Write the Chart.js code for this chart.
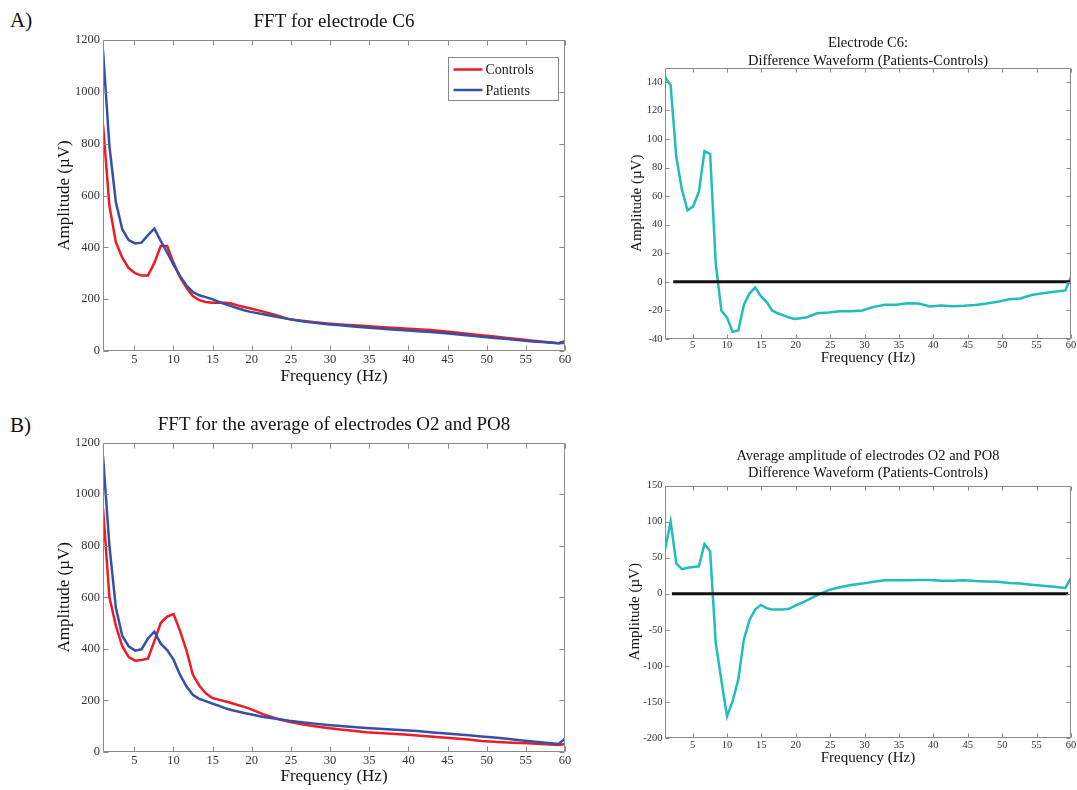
<!DOCTYPE html>
<html>
<head>
<meta charset="utf-8">
<script src="https://cdn.jsdelivr.net/npm/chart.js@4.4.1/dist/chart.umd.min.js"></script>
<style>
  html, body { margin: 0; padding: 0; background: #fff; overflow: hidden; }
  body { width: 1077px; height: 790px; position: relative; font-family: 'Liberation Serif', 'Times New Roman', serif; }
  canvas { position: absolute; }
  .tag { position: absolute; font-size: 21px; line-height: 24px; color: #111; }
</style>
</head>
<body>
<div class="tag" style="left:10px;top:8px">A)</div>
<div class="tag" style="left:10px;top:413px">B)</div>
<canvas id="fft-c6"></canvas>
<canvas id="diff-c6"></canvas>
<canvas id="fft-occ"></canvas>
<canvas id="diff-occ"></canvas>
<script>
// frequency bins (Hz): every bin up to 20 Hz, every second bin above
const freq = [1.00, 1.82, 2.64, 3.46, 4.28, 5.10, 5.92, 6.74, 7.56, 8.37, 9.19, 10.01,
  10.83, 11.65, 12.47, 13.29, 14.11, 14.93, 15.75, 16.57, 17.39, 18.21, 19.03, 19.85,
  21.49, 23.12, 24.76, 26.40, 28.04, 29.68, 31.32, 32.96, 34.60, 36.23, 37.87, 39.51,
  41.15, 42.79, 44.43, 46.07, 47.71, 49.35, 50.98, 52.62, 54.26, 55.90, 57.54, 59.18, 60.00];

// electrode C6
const c6Controls = [875, 560, 420, 360, 320, 300, 291, 291, 340, 405, 405, 340,
  285, 245, 212, 196, 189, 186, 186, 186, 183, 176, 170, 164,
  152, 138, 123, 117, 111, 106, 102, 99, 96, 93, 90, 87,
  84, 81, 76, 71, 66, 61, 56, 50, 45, 40, 35, 30, 31];
const c6Patients = [1160, 790, 575, 470, 428, 415, 418, 447, 472, 425, 380, 332,
  290, 253, 228, 215, 208, 200, 190, 181, 173, 165, 157, 151,
  142, 132, 123, 115, 109, 103, 99, 95, 91, 87, 83, 80,
  76, 73, 69, 65, 60, 55, 50, 46, 41, 37, 34, 30, 38];
const c6Diff = [143.5, 137.5, 87.5, 64.5, 50, 53, 63, 91.5, 89.5, 13, -20, -25,
  -35, -34, -16, -8, -4, -10, -14, -20, -22, -23.5, -25, -26,
  -25, -22, -21.5, -20.5, -20.5, -20, -17.5, -16, -16, -15, -15.2, -17.3,
  -16.5, -17, -16.8, -16.2, -15.2, -14, -12.2, -11.6, -9.2, -8, -7, -6, 3.5];

// average of O2 and PO8
const occControls = [946, 600, 490, 410, 368, 354, 357, 362, 430, 500, 525, 535,
  470, 395, 300, 258, 228, 210, 203, 197, 190, 182, 175, 166,
  146, 130, 117, 108, 100, 93, 87, 82, 77, 74, 71, 68,
  64, 60, 56, 52, 48, 43, 40, 37, 35, 33, 30, 27, 31];
const occPatients = [1148, 800, 560, 450, 410, 393, 398, 440, 467, 420, 395, 358,
  300, 255, 222, 206, 197, 188, 180, 170, 163, 157, 151, 146,
  136, 129, 121, 115, 110, 105, 101, 97, 93, 90, 87, 84,
  81, 77, 73, 69, 65, 60, 56, 51, 46, 41, 36, 31, 52];
const occDiff = [61, 100, 42, 34, 36, 37, 38, 69, 59, -68, -120, -170,
  -149, -119, -63, -36, -22, -15.5, -20, -22, -22, -22, -21, -17,
  -10, -2, 5, 9, 12, 14, 16.5, 18.5, 18.5, 18.5, 19, 19,
  18, 18, 18.5, 17.5, 17, 16.5, 15, 14, 12.5, 11, 9.5, 8, 22];

// zero reference line ends (Hz)
const zeroC6 = [2.2, 60];
const zeroOcc = [2.0, 59.6];

const freqTicks = [5, 10, 15, 20, 25, 30, 35, 40, 45, 50, 55, 60];
const fftTicks = [0, 200, 400, 600, 800, 1000, 1200];
const c6DiffTicks = [-40, -20, 0, 20, 40, 60, 80, 100, 120, 140];
const occDiffTicks = [-200, -150, -100, -50, 0, 50, 100, 150];

const SERIF = "'Liberation Serif', 'Times New Roman', serif";
const RED = '#ec1c24', BLUE = '#3551a6', CYAN = '#22bcbc';

const pts = (xs, ys) => xs.map((x, i) => ({ x, y: ys[i] }));

// box with inward ticks on all four sides
const matlabAxes = {
  id: 'matlabAxes',
  afterDatasetsDraw(chart, args, o) {
    const { ctx, chartArea: a, scales: { x, y } } = chart;
    const L = Math.round(a.left) + 0.5, R = Math.round(a.right) - 0.5;
    const T = Math.round(a.top) + 0.5, B = Math.round(a.bottom) - 0.5;
    ctx.save();
    ctx.strokeStyle = '#8a8a8a';
    ctx.lineWidth = 1;
    ctx.beginPath();
    x.ticks.forEach(t => {
      const p = Math.round(x.getPixelForValue(t.value)) + 0.5;
      ctx.moveTo(p, B); ctx.lineTo(p, B - o.len);
      ctx.moveTo(p, T); ctx.lineTo(p, T + o.len);
    });
    y.ticks.forEach(t => {
      const p = Math.round(y.getPixelForValue(t.value)) + 0.5;
      ctx.moveTo(L, p); ctx.lineTo(L + o.len, p);
      ctx.moveTo(R, p); ctx.lineTo(R - o.len, p);
    });
    ctx.rect(L, T, R - L, B - T);
    ctx.stroke();
    ctx.restore();
  }
};

const panelTitle = {
  id: 'panelTitle',
  afterDraw(chart, args, o) {
    if (!o.lines) return;
    const { ctx, chartArea: a } = chart;
    ctx.save();
    ctx.font = o.size + 'px ' + SERIF;
    ctx.fillStyle = '#111';
    ctx.textAlign = 'center';
    ctx.textBaseline = 'middle';
    const cx = (a.left + a.right) / 2;
    o.lines.forEach((t, i) => ctx.fillText(t, cx, o.ys[i]));
    ctx.restore();
  }
};

// legend in a bordered box at the upper right of the plot
const boxLegend = {
  id: 'boxLegend',
  afterDraw(chart, args, o) {
    if (!o.show) return;
    const { ctx, chartArea: a } = chart;
    const x0 = Math.round(a.right - o.right - o.w) + 0.5;
    const y0 = Math.round(a.top + o.top) + 0.5;
    ctx.save();
    ctx.fillStyle = '#fff';
    ctx.fillRect(x0, y0, o.w, o.h);
    ctx.strokeStyle = '#8a8a8a';
    ctx.lineWidth = 1;
    ctx.strokeRect(x0, y0, o.w, o.h);
    ctx.font = o.size + 'px ' + SERIF;
    ctx.textBaseline = 'middle';
    chart.data.datasets.filter(d => d.label).forEach((d, i) => {
      const yy = y0 + o.rows[i];
      ctx.strokeStyle = d.borderColor;
      ctx.lineWidth = 2.5;
      ctx.beginPath();
      ctx.moveTo(x0 + 5, yy); ctx.lineTo(x0 + 34, yy);
      ctx.stroke();
      ctx.fillStyle = '#222';
      ctx.fillText(d.label, x0 + 37, yy + 1);
    });
    ctx.restore();
  }
};

function panel(id, box, plot, cfg) {
  const cv = document.getElementById(id);
  cv.width = box.w; cv.height = box.h;
  cv.style.left = box.x + 'px'; cv.style.top = box.y + 'px';
  const tickFont = { family: SERIF, size: cfg.tickSize };
  const axisFont = { family: SERIF, size: cfg.labelSize };
  const half = cfg.labelSize * 0.6;
  return new Chart(cv, {
    type: 'line',
    data: { datasets: cfg.datasets },
    options: {
      responsive: false,
      animation: false,
      devicePixelRatio: 1,
      events: [],
      layout: { padding: { top: plot.t - box.y, right: box.x + box.w - plot.r, left: 0, bottom: 0 } },
      elements: { point: { radius: 0 }, line: { tension: 0 } },
      plugins: {
        legend: { display: false },
        tooltip: { enabled: false },
        matlabAxes: { len: cfg.tickLen },
        panelTitle: { lines: cfg.title, ys: cfg.titleY.map(v => v - box.y), size: cfg.titleSize },
        boxLegend: cfg.legend || { show: false }
      },
      scales: {
        x: {
          type: 'linear', min: 1, max: 60,
          afterBuildTicks: s => { s.ticks = freqTicks.map(v => ({ value: v })); },
          afterFit: s => { s.height = box.y + box.h - plot.b; s.paddingLeft = 0; s.paddingRight = 0; },
          grid: { display: false, drawTicks: false },
          border: { display: false },
          ticks: { autoSkip: false, maxRotation: 0, padding: cfg.xPad, font: tickFont, color: '#333',
                   callback: v => String(v) },
          title: { display: true, text: 'Frequency (Hz)', font: axisFont, color: '#111',
                   padding: { top: 0, bottom: (box.y + box.h - cfg.xTitleY) - half } }
        },
        y: {
          type: 'linear', min: cfg.yMin, max: cfg.yMax,
          afterBuildTicks: s => { s.ticks = cfg.yTicks.map(v => ({ value: v })); },
          afterFit: s => { s.width = plot.l - box.x; s.paddingTop = 0; s.paddingBottom = 0; },
          grid: { display: false, drawTicks: false },
          border: { display: false },
          ticks: { padding: cfg.yPad, font: tickFont, color: '#333', callback: v => String(v) },
          title: { display: true, text: 'Amplitude (\u00b5V)', font: axisFont, color: '#111',
                   padding: { top: (cfg.yTitleX - box.x) - half, bottom: 0 } }
        }
      }
    },
    plugins: [matlabAxes, panelTitle, boxLegend]
  });
}

const fftLines = (ctrl, pat) => [
  { label: 'Controls', data: pts(freq, ctrl), borderColor: RED, borderWidth: 2.5, order: 1 },
  { label: 'Patients', data: pts(freq, pat), borderColor: BLUE, borderWidth: 2.5, order: 0 }
];
const diffLines = (diff, zero) => [
  { data: pts(freq, diff), borderColor: CYAN, borderWidth: 2.5, order: 1 },
  { data: pts(zero, [0, 0]), borderColor: '#111', borderWidth: 3, order: 0 }
];

panel('fft-c6', { x: 40, y: 0, w: 560, h: 400 }, { l: 103, r: 565, t: 40, b: 351 }, {
  datasets: fftLines(c6Controls, c6Patients),
  yMin: 0, yMax: 1200, yTicks: fftTicks,
  title: ['FFT for electrode C6'], titleY: [22], titleSize: 19,
  tickSize: 12.5, labelSize: 17, tickLen: 5, xPad: 1.5, yPad: 3,
  xTitleY: 377, yTitleX: 65,
  legend: { show: true, right: 7, top: 16.5, w: 110, h: 43, rows: [12, 32.5], size: 14 }
});

panel('diff-c6', { x: 605, y: 0, w: 472, h: 372 }, { l: 665, r: 1071, t: 67.5, b: 339 }, {
  datasets: diffLines(c6Diff, zeroC6),
  yMin: -40, yMax: 150, yTicks: c6DiffTicks,
  title: ['Electrode C6:', 'Difference Waveform (Patients-Controls)'], titleY: [43.3, 60.7], titleSize: 14.5,
  tickSize: 10.5, labelSize: 15, tickLen: 4, xPad: 0, yPad: 2.5,
  xTitleY: 358, yTitleX: 637.5
});

panel('fft-occ', { x: 40, y: 405, w: 560, h: 385 }, { l: 103, r: 565, t: 442.5, b: 752 }, {
  datasets: fftLines(occControls, occPatients),
  yMin: 0, yMax: 1200, yTicks: fftTicks,
  title: ['FFT for the average of electrodes O2 and PO8'], titleY: [425], titleSize: 19,
  tickSize: 12.5, labelSize: 17, tickLen: 5, xPad: 1.5, yPad: 3,
  xTitleY: 777, yTitleX: 65
});

panel('diff-occ', { x: 605, y: 415, w: 472, h: 375 }, { l: 665, r: 1071, t: 485.5, b: 738 }, {
  datasets: diffLines(occDiff, zeroOcc),
  yMin: -200, yMax: 150, yTicks: occDiffTicks,
  title: ['Average amplitude of electrodes O2 and PO8', 'Difference Waveform (Patients-Controls)'],
  titleY: [455.7, 472.7], titleSize: 14.5,
  tickSize: 10.5, labelSize: 15, tickLen: 4, xPad: 0.5, yPad: 2.5,
  xTitleY: 758, yTitleX: 635
});
</script>
</body>
</html>
